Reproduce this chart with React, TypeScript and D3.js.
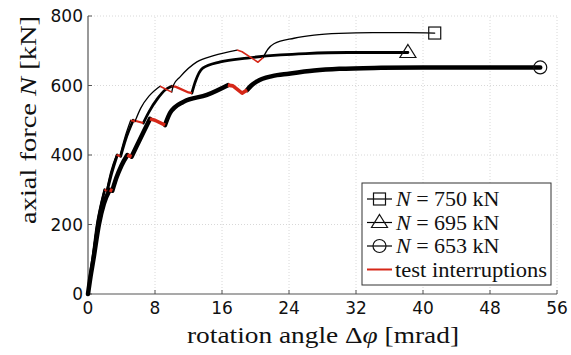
import React from 'react';
import * as d3 from 'd3';

// x ticks [mrad], y ticks [kN]
const xTicks = [0, 8, 16, 24, 32, 40, 48, 56];
const yTicks = [0, 200, 400, 600, 800];

// loading branches (black) and test interruptions (red), [rotation mrad, force kN]
const loading750: [number, number][][] = [
  [[0, 0], [0.3, 62], [0.55, 104], [1.05, 200], [1.55, 262], [1.95, 300]],
  [[2.2, 297], [2.7, 350], [3.4, 400]],
  [[3.8, 397], [4.4, 450], [5.1, 500]],
  [[5.6, 496], [6.3, 535], [7.3, 570], [8.6, 598]],
  [[10, 581], [10.2, 601], [11, 625], [13, 668], [15, 686], [17.8, 702]],
  [[20.9, 680], [21.5, 705], [22.2, 720], [24.6, 736], [27, 745], [30, 750], [34, 752], [38, 752], [41.4, 751]],
];
const stops750: [number, number][][] = [
  [[1.95, 300], [2.2, 297]],
  [[3.4, 400], [3.8, 397]],
  [[5.1, 500], [5.6, 496]],
  [[8.6, 598], [10, 581]],
  [[17.8, 702], [18.4, 697], [20.3, 667], [20.9, 680]],
];

const loading695: [number, number][][] = [
  [[0, 0], [0.3, 60], [0.55, 100], [1.1, 200], [1.6, 260], [2.0, 300]],
  [[2.3, 297], [2.8, 345], [3.5, 400]],
  [[3.9, 396], [4.5, 445], [5.4, 500]],
  [[6.6, 492], [7.3, 525], [8.3, 562], [9.2, 587], [10, 598]],
  [[12.4, 578], [12.8, 610], [13.7, 650], [15.8, 668], [19, 679], [23, 688], [26, 692], [31, 695], [38.2, 695]],
];
const stops695: [number, number][][] = [
  [[2.0, 300], [2.3, 297]],
  [[3.5, 400], [3.9, 396]],
  [[5.4, 500], [6.6, 492]],
  [[10, 598], [10.5, 596], [12, 580], [12.4, 578]],
];

const loading653: [number, number][][] = [
  [[0, 0], [0.3, 50], [0.65, 100], [1.3, 200], [1.9, 260], [2.6, 300]],
  [[2.9, 297], [3.4, 335], [4.0, 370], [4.7, 400]],
  [[5.2, 395], [5.8, 425], [6.6, 465], [7.4, 504]],
  [[9.2, 486], [9.8, 521], [11.4, 553], [14.2, 573], [16.7, 601]],
  [[19.0, 587], [19.5, 600], [20.2, 612], [22, 627], [24, 634], [27, 643], [30, 648], [35, 651], [40, 652], [48, 652], [54, 652]],
];
const stops653: [number, number][][] = [
  [[2.6, 300], [2.9, 297]],
  [[4.7, 400], [5.2, 395]],
  [[7.4, 504], [8.0, 500], [9.2, 486]],
  [[16.7, 601], [17.3, 599], [18.4, 578], [19.0, 587]],
];

const legendLabels = ['750', '695', '653'];

const W = 571;
const H = 355;
const margin = { top: 16, right: 14, bottom: 61, left: 88 };

const Marker = ({ kind, x, y }: { kind: string; x: number; y: number }) => {
  if (kind === 'square')
    return <rect x={x - 6} y={y - 6} width={12} height={12} fill="none" stroke="#111" strokeWidth={1.2} />;
  if (kind === 'triangle')
    return (
      <path
        d={`M${x},${y - 8} L${x + 8},${y + 5} L${x - 8},${y + 5} Z`}
        fill="none"
        stroke="#111"
        strokeWidth={1.2}
      />
    );
  return <circle cx={x} cy={y} r={6.5} fill="none" stroke="#111" strokeWidth={1.2} />;
};

export default function App() {
  const iw = W - margin.left - margin.right;
  const ih = H - margin.top - margin.bottom;
  const x = d3.scaleLinear().domain([0, 56]).range([margin.left, margin.left + iw]);
  const y = d3.scaleLinear().domain([0, 800]).range([margin.top + ih, margin.top]);
  const line = d3
    .line<[number, number]>()
    .x((d) => x(d[0]))
    .y((d) => y(d[1]))
    .curve(d3.curveMonotoneX);
  const straight = d3
    .line<[number, number]>()
    .x((d) => x(d[0]))
    .y((d) => y(d[1]));

  const series = [
    { loading: loading653, stops: stops653, width: 4.5, marker: 'circle' },
    { loading: loading695, stops: stops695, width: 2.8, marker: 'triangle' },
    { loading: loading750, stops: stops750, width: 1.3, marker: 'square' },
  ];

  const lg = { x: 362, y: 183, w: 189, h: 102 };
  const rowH = 23.5;
  const legendMarkers = ['square', 'triangle', 'circle'];

  return (
    <svg width={W} height={H} style={{ position: 'absolute', left: 0, top: 0, background: '#fff' }}>
      {/* grid */}
      {xTicks.slice(1).map((t) => (
        <line key={'gx' + t} x1={x(t)} x2={x(t)} y1={y(0)} y2={y(800)} stroke="#d8d8d8" strokeDasharray="1,2" />
      ))}
      {yTicks.slice(1).map((t) => (
        <line key={'gy' + t} x1={x(0)} x2={x(56)} y1={y(t)} y2={y(t)} stroke="#d8d8d8" strokeDasharray="1,2" />
      ))}
      {/* axes */}
      <line x1={x(0)} x2={x(56)} y1={y(0)} y2={y(0)} stroke="#555" strokeWidth={1.2} />
      <line x1={x(0)} x2={x(0)} y1={y(0)} y2={y(800)} stroke="#555" strokeWidth={1.2} />
      {xTicks.map((t) => (
        <g key={'xt' + t}>
          <line x1={x(t)} x2={x(t)} y1={y(0)} y2={y(0) - 4} stroke="#555" />
          <text x={x(t)} y={y(0) + 20} textAnchor="middle" fontFamily="DejaVu Sans" fontSize={17} fill="#111">
            {t}
          </text>
        </g>
      ))}
      {yTicks.map((t) => (
        <g key={'yt' + t}>
          <line x1={x(0)} x2={x(0) + 4} y1={y(t)} y2={y(t)} stroke="#555" />
          <text x={x(0) - 5} y={y(t) + 6} textAnchor="end" fontFamily="DejaVu Sans" fontSize={17} fill="#111">
            {t}
          </text>
        </g>
      ))}
      {/* curves */}
      {series.map((s, i) => (
        <g key={'s' + i}>
          {s.loading.map((seg, j) => (
            <path key={'l' + j} d={line(seg) || ''} fill="none" stroke="#000" strokeWidth={s.width} strokeLinejoin="round" strokeLinecap="round" />
          ))}
          {s.stops.map((seg, j) => (
            <path key={'r' + j} d={straight(seg) || ''} fill="none" stroke="#d62718" strokeWidth={Math.max(1.6, s.width * 0.8)} strokeLinejoin="round" />
          ))}
        </g>
      ))}
      {series.map((s, i) => {
        const lastSeg = s.loading[s.loading.length - 1];
        const last = lastSeg[lastSeg.length - 1];
        return <Marker key={'m' + i} kind={s.marker} x={x(last[0])} y={y(last[1])} />;
      })}
      {/* axis titles */}
      <text
        x={323}
        y={343}
        textAnchor="middle"
        fontFamily="Liberation Serif"
        fontSize={24}
        fill="#111"
        textLength={272}
        lengthAdjust="spacingAndGlyphs"
      >
        rotation angle Δ<tspan fontStyle="italic">φ</tspan> [mrad]
      </text>
      <text
        transform="translate(36,120) rotate(-90)"
        textAnchor="middle"
        fontFamily="Liberation Serif"
        fontSize={24}
        fill="#111"
        textLength={208}
        lengthAdjust="spacingAndGlyphs"
      >
        axial force <tspan fontStyle="italic">N</tspan> [kN]
      </text>
      {/* legend */}
      <rect x={lg.x} y={lg.y} width={lg.w} height={lg.h} fill="#fff" stroke="#333" strokeWidth={1} />
      {legendLabels.map((lab, i) => {
        const cy = lg.y + 16 + i * rowH;
        return (
          <g key={'lg' + i}>
            <line x1={lg.x + 5} x2={lg.x + 30} y1={cy} y2={cy} stroke="#000" strokeWidth={1.2} />
            <Marker kind={legendMarkers[i]} x={lg.x + 17.5} y={cy} />
            <text x={lg.x + 34} y={cy + 7} fontFamily="Liberation Serif" fontSize={22} fill="#111">
              <tspan fontStyle="italic">N</tspan> = {lab} kN
            </text>
          </g>
        );
      })}
      <line
        x1={lg.x + 5}
        x2={lg.x + 30}
        y1={lg.y + 16 + 3 * rowH}
        y2={lg.y + 16 + 3 * rowH}
        stroke="#d62718"
        strokeWidth={2}
      />
      <text
        x={lg.x + 33}
        y={lg.y + 23 + 3 * rowH}
        fontFamily="Liberation Serif"
        fontSize={22}
        fill="#111"
        textLength={152}
        lengthAdjust="spacingAndGlyphs"
      >
        test interruptions
      </text>
    </svg>
  );
}
